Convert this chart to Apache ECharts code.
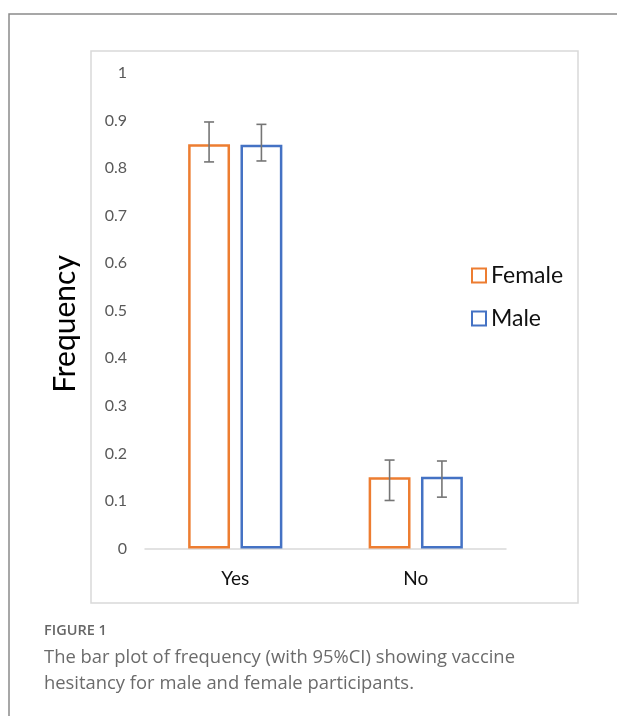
<!DOCTYPE html>
<html>
<head>
<meta charset="utf-8">
<script src="https://cdn.jsdelivr.net/npm/echarts@6/dist/echarts.min.js"></script>
<style>
html,body{margin:0;padding:0;background:#fff;}
#chart{width:617px;height:716px;}
</style>
</head>
<body>
<div id="chart"></div>
<script>
const categories = ['Yes', 'No'];
const femaleValues = [0.85, 0.15];
const maleValues = [0.849, 0.151];
const femaleLow = [0.813, 0.101];
const femaleHigh = [0.897, 0.186];
const maleLow = [0.815, 0.108];
const maleHigh = [0.892, 0.184];
const yTicks = [0, 0.1, 0.2, 0.3, 0.4, 0.5, 0.6, 0.7, 0.8, 0.9, 1];
const yTitle = 'Frequency';

const BAR_W = 0.232, BAR_GAP = 0.25;

function errData(low, high) {
  return categories.map((c, i) => [i, low[i], high[i]]);
}
function errRender(side) {
  return function (params, api) {
    const i = api.value(0);
    const pLow = api.coord([i, api.value(1)]);
    const pHigh = api.coord([i, api.value(2)]);
    const band = api.size([1, 0])[0];
    const bw = band * BAR_W;
    const off = (bw + bw * BAR_GAP) / 2 * side;
    const x = pLow[0] + off;
    const cap = 5;
    const st = { stroke: '#757575', lineWidth: 1.6 };
    return {
      type: 'group',
      children: [
        { type: 'line', shape: { x1: x, y1: pLow[1], x2: x, y2: pHigh[1] }, style: st },
        { type: 'line', shape: { x1: x - cap, y1: pLow[1], x2: x + cap, y2: pLow[1] }, style: st },
        { type: 'line', shape: { x1: x - cap, y1: pHigh[1], x2: x + cap, y2: pHigh[1] }, style: st }
      ]
    };
  };
}

const chart = echarts.init(document.getElementById('chart'), null, { renderer: 'canvas' });
chart.setOption({
  animation: false,
  backgroundColor: '#fff',
  grid: { left: 145, right: 111, top: 73, bottom: 167.5, containLabel: false },
  legend: {
    orient: 'vertical',
    left: 466,
    top: 259,
    itemWidth: 14,
    itemHeight: 14,
    itemGap: 20,
    icon: 'rect',
    data: ['Female', 'Male'],
    textStyle: { fontFamily: 'Lato', fontSize: 23, color: '#111' }
  },
  xAxis: {
    type: 'category',
    data: categories,
    axisLine: { lineStyle: { color: '#d9d9d9', width: 1.5 } },
    axisTick: { show: false },
    axisLabel: { fontFamily: 'Lato', fontSize: 19, color: '#111', margin: 21 }
  },
  yAxis: {
    type: 'value',
    min: 0,
    max: 1,
    interval: 0.1,
    axisLine: { show: false },
    axisTick: { show: false },
    splitLine: { show: false },
    axisLabel: {
      fontFamily: 'Lato', fontSize: 16, color: '#595959', margin: 18,
      formatter: v => {
        const t = yTicks.find(k => Math.abs(k - v) < 1e-9);
        return t === undefined ? '' : String(t);
      }
    }
  },
  series: [
    {
      name: 'Female', type: 'bar', data: femaleValues,
      barWidth: (BAR_W * 100) + '%', barGap: (BAR_GAP * 100) + '%',
      itemStyle: { color: '#fff', borderColor: '#ED7D31', borderWidth: 2.5 }
    },
    {
      name: 'Male', type: 'bar', data: maleValues,
      barWidth: (BAR_W * 100) + '%', barGap: (BAR_GAP * 100) + '%',
      itemStyle: { color: '#fff', borderColor: '#4472C4', borderWidth: 2.5 }
    },
    {
      type: 'custom', renderItem: errRender(-1), data: errData(femaleLow, femaleHigh),
      encode: { x: 0, y: [1, 2] }, z: 10, silent: true
    },
    {
      type: 'custom', renderItem: errRender(1), data: errData(maleLow, maleHigh),
      encode: { x: 0, y: [1, 2] }, z: 10, silent: true
    }
  ],
  graphic: [
    {
      type: 'polyline', silent: true,
      shape: { points: [[9, 716], [9, 14], [617, 14]] },
      style: { stroke: '#8a8a8a', lineWidth: 1.5, fill: null }
    },
    {
      type: 'rect', silent: true, z: -1,
      shape: { x: 91, y: 51, width: 487, height: 552 },
      style: { stroke: '#d9d9d9', lineWidth: 1.5, fill: null }
    },
    {
      type: 'text', silent: true, x: 65, y: 324, rotation: Math.PI / 2,
      style: { text: yTitle, fontFamily: 'Lato', fontSize: 30, fill: '#000', align: 'center', verticalAlign: 'middle' }
    },
    {
      type: 'text', left: 44, top: 623, silent: true,
      style: { text: 'FIGURE 1', fontFamily: 'Open Sans', fontSize: 14.5, fontWeight: 600, fill: '#666' }
    },
    {
      type: 'text', left: 44, top: 645, silent: true,
      style: {
        text: 'The bar plot of frequency (with 95%CI) showing vaccine\nhesitancy for male and female participants.',
        fontFamily: 'Open Sans', fontSize: 18.4, lineHeight: 26, fill: '#6b6b6b'
      }
    }
  ]
});
</script>
</body>
</html>
